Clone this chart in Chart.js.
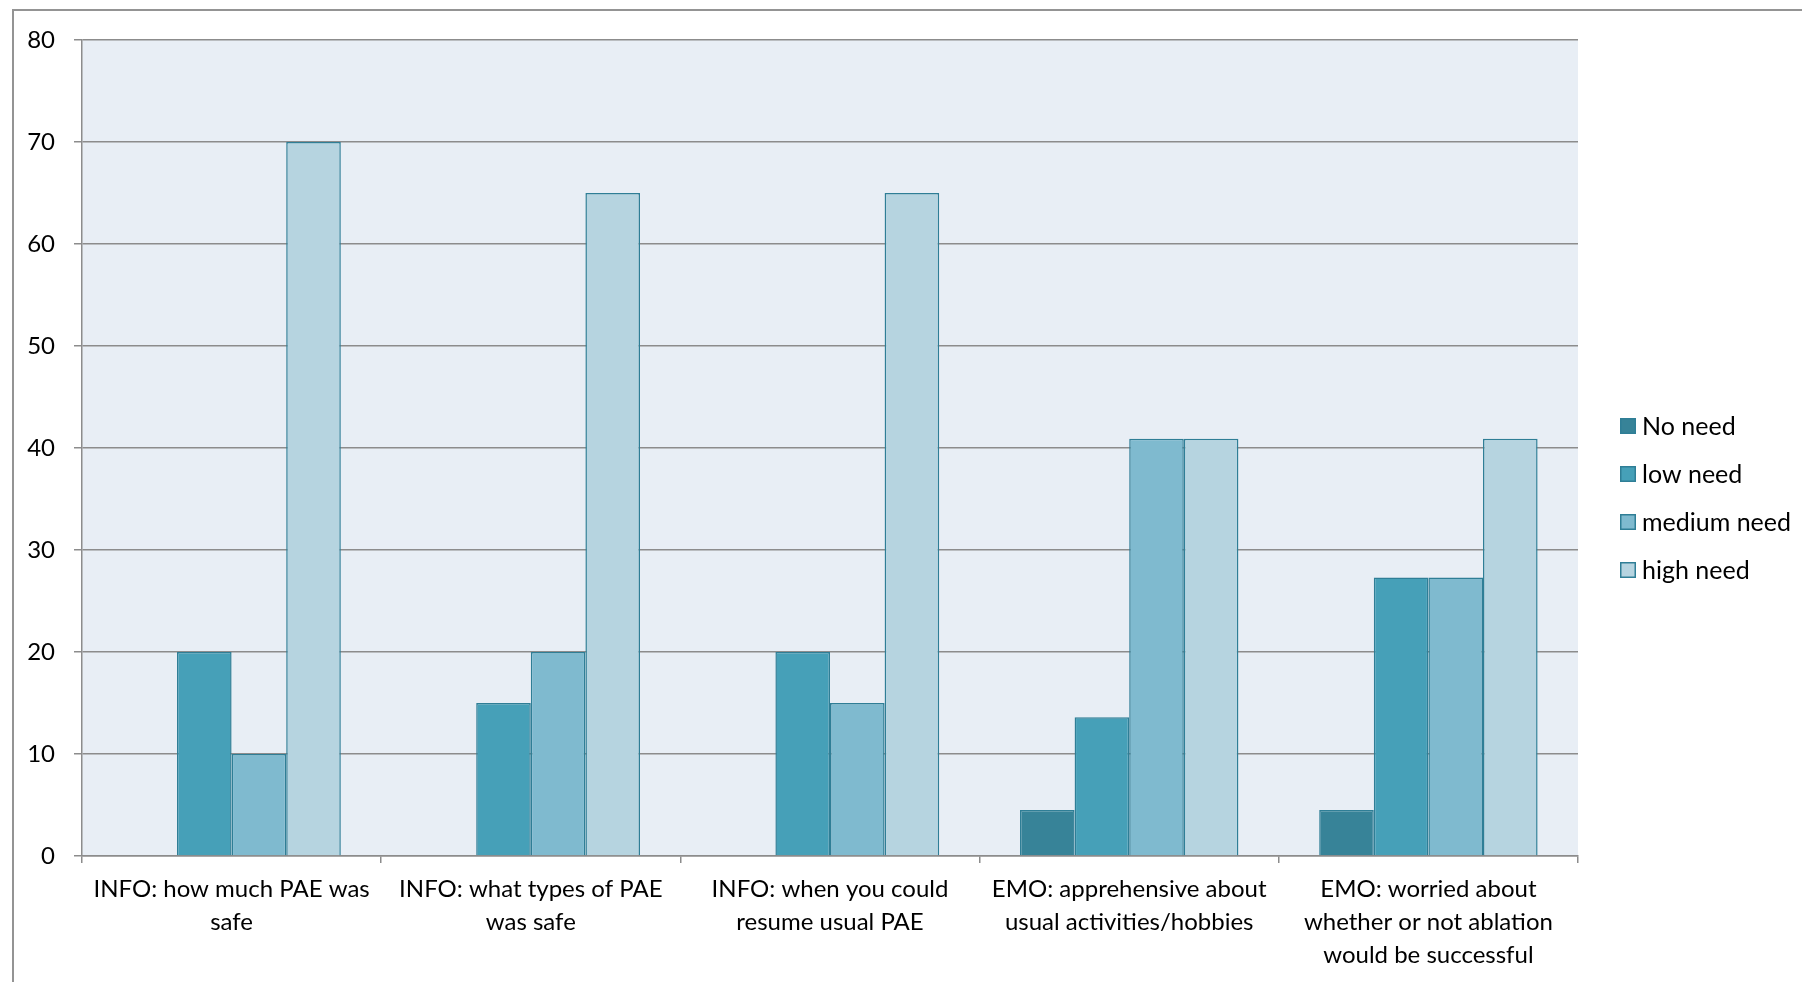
<!DOCTYPE html>
<html>
<head>
<meta charset="utf-8">
<title>Information and emotional needs</title>
<script src="https://cdn.jsdelivr.net/npm/chart.js@4/dist/chart.umd.min.js"></script>
<style>
  html, body { margin: 0; padding: 0; background: #ffffff; overflow: hidden; }
  #frame {
    position: absolute; left: 12px; top: 9px; width: 2000px; height: 1200px;
    border-left: 2px solid #949494; border-top: 2px solid #949494;
  }
  #wrap { position: absolute; left: 0; top: 0; width: 1802px; height: 982px; }
</style>
</head>
<body>
<div id="frame"></div>
<div id="wrap"><canvas id="chart" width="1802" height="982"></canvas></div>
<script>
// Question categories (multi-line axis labels)
const categories = [
  ["INFO: how much PAE was", "safe"],
  ["INFO: what types of PAE", "was safe"],
  ["INFO: when you could", "resume usual PAE"],
  ["EMO: apprehensive about", "usual activities/hobbies"],
  ["EMO: worried about", "whether or not ablation", "would be successful"]
];

// Series names
const seriesNames = ["No need", "low need", "medium need", "high need"];

// Percent of respondents per need level
const noNeed     = [0, 0, 0, 4.5, 4.5];
const lowNeed    = [20, 15, 20, 13.6, 27.3];
const mediumNeed = [10, 20, 15, 40.9, 27.3];
const highNeed   = [70, 65, 65, 40.9, 40.9];

// Value axis ticks
const yTicks = [0, 10, 20, 30, 40, 50, 60, 70, 80];

const fillColors = ["#378398", "#46a0b8", "#7fbacf", "#b6d4e0"];
const edgeColor = "#2f7e96";
const gridColor = "#8c8c8c";
const fontFamily = "Lato, 'Open Sans', sans-serif";

// Light panel behind the plot area
const plotBackground = {
  id: "plotBackground",
  beforeDraw(chart) {
    const { ctx, chartArea: a } = chart;
    ctx.save();
    ctx.fillStyle = "#e8eef5";
    ctx.fillRect(a.left, a.top, a.right - a.left, a.bottom - a.top);
    ctx.restore();
  }
};

// Legend column on the right side of the plot
const sideLegend = {
  id: "sideLegend",
  afterDraw(chart) {
    const { ctx, chartArea: a } = chart;
    const x0 = a.right + 42;
    const yCenter = (a.top + a.bottom) / 2 + 50;
    const rowGap = 48;
    const n = chart.data.datasets.length;
    ctx.save();
    ctx.font = "25px " + fontFamily;
    ctx.textBaseline = "middle";
    ctx.textAlign = "left";
    chart.data.datasets.forEach((ds, i) => {
      const cy = yCenter + (i - (n - 1) / 2) * rowGap;
      ctx.fillStyle = ds.backgroundColor;
      ctx.fillRect(x0, cy - 8, 16, 16);
      ctx.strokeStyle = ds.borderColor;
      ctx.lineWidth = 1.5;
      ctx.strokeRect(x0 + 0.75, cy - 7.25, 14.5, 14.5);
      ctx.fillStyle = "#000000";
      ctx.fillText(ds.label, x0 + 22, cy + 1);
    });
    ctx.restore();
  }
};

const seriesValues = [noNeed, lowNeed, mediumNeed, highNeed];

new Chart(document.getElementById("chart"), {
  type: "bar",
  data: {
    labels: categories,
    datasets: seriesNames.map((name, i) => ({
      label: name,
      data: seriesValues[i],
      backgroundColor: fillColors[i],
      borderColor: edgeColor,
      borderWidth: 1.5,
      borderSkipped: "start",
      categoryPercentage: 0.73,
      barPercentage: 1.0
    }))
  },
  options: {
    responsive: false,
    animation: false,
    devicePixelRatio: 1,
    layout: { padding: { left: 0, top: 40, right: 224, bottom: 0 } },
    plugins: {
      legend: { display: false },
      tooltip: { enabled: false }
    },
    scales: {
      x: {
        grid: {
          display: true,
          drawOnChartArea: false,
          drawTicks: true,
          tickLength: 7,
          color: gridColor,
          lineWidth: 1.5,
          offset: true
        },
        border: { display: true, color: gridColor, width: 1.5 },
        ticks: {
          color: "#000000",
          padding: 10,
          maxRotation: 0,
          autoSkip: false,
          font: { family: fontFamily, size: 24, lineHeight: 1.375 }
        },
        afterFit(scale) { scale.height = 126; }
      },
      y: {
        min: 0,
        max: 80,
        afterBuildTicks(scale) { scale.ticks = yTicks.map(v => ({ value: v })); },
        grid: {
          color: gridColor,
          lineWidth: 1.5,
          drawTicks: true,
          tickLength: 8
        },
        border: { display: true, color: gridColor, width: 1.5 },
        ticks: {
          color: "#000000",
          padding: 19,
          font: { family: fontFamily, size: 24 }
        },
        afterFit(scale) { scale.width = 82; }
      }
    }
  },
  plugins: [plotBackground, sideLegend]
});
</script>
</body>
</html>
